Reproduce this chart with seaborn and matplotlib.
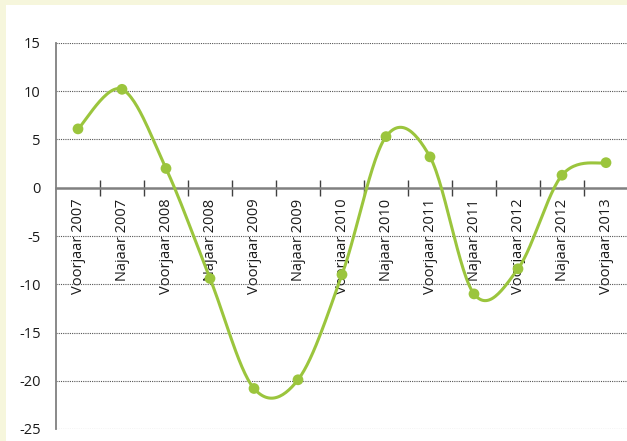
import numpy as np
import pandas as pd
import matplotlib
matplotlib.use("Agg")
import matplotlib.pyplot as plt
from matplotlib.patches import Rectangle
from matplotlib.ticker import FixedLocator
import seaborn as sns

PERIODS = ["Voorjaar 2007", "Najaar 2007", "Voorjaar 2008", "Najaar 2008",
           "Voorjaar 2009", "Najaar 2009", "Voorjaar 2010", "Najaar 2010",
           "Voorjaar 2011", "Najaar 2011", "Voorjaar 2012", "Najaar 2012",
           "Voorjaar 2013"]
VALUES = [6.1, 10.2, 2.0, -9.4, -20.8, -19.9, -9.0, 5.3, 3.2, -11.0, -8.4, 1.3, 2.6]
Y_TICKS = [15, 10, 5, 0, -5, -10, -15, -20, -25]

GREEN = "#9BC53D"
BG = "#F6F6DC"


def smooth_curve(x, y, steps=30):
    # Excel-style smoothed line: cubic Bezier with Catmull-Rom control points
    x = np.asarray(x, float)
    y = np.asarray(y, float)
    p = np.column_stack([x, y])
    p = np.vstack([p[0], p, p[-1]])
    out = []
    t = np.linspace(0, 1, steps)[:, None]
    for i in range(1, len(p) - 2):
        p0, p1, p2, p3 = p[i - 1], p[i], p[i + 1], p[i + 2]
        c1 = p1 + (p2 - p0) / 6
        c2 = p2 - (p3 - p1) / 6
        seg = ((1 - t) ** 3) * p1 + 3 * ((1 - t) ** 2) * t * c1 \
            + 3 * (1 - t) * t ** 2 * c2 + t ** 3 * p2
        out.append(seg if i == 1 else seg[1:])
    out = np.vstack(out)
    return out[:, 0], out[:, 1]


sns.set_style("white")
plt.rcParams["font.family"] = ["Open Sans", "DejaVu Sans"]

df = pd.DataFrame({"pos": np.arange(len(PERIODS)), "value": VALUES})
sx, sy = smooth_curve(df["pos"], df["value"])
curve = pd.DataFrame({"pos": sx, "value": sy})

fig = plt.figure(figsize=(6.27, 4.41), dpi=100)
fig.patch.set_facecolor(BG)
panel = Rectangle((6 / 627, 0), 1, (441 - 5) / 441, transform=fig.transFigure,
                  facecolor="white", edgecolor="none", zorder=-5)
fig.add_artist(panel)

ax = fig.add_axes([56 / 627, 12 / 441, 572 / 627, 386 / 441])
ax.set_facecolor("none")

sns.lineplot(data=curve, x="pos", y="value", sort=False, estimator=None,
             color=GREEN, linewidth=2.2, ax=ax, zorder=3)
sns.scatterplot(data=df, x="pos", y="value", color=GREEN, s=60,
                edgecolor="none", ax=ax, zorder=4)

ax.set_xlim(-0.5, len(PERIODS) - 0.5)
ax.set_ylim(-25, 15)

ax.set_yticks(Y_TICKS)
ax.set_yticklabels([str(v) for v in Y_TICKS])
for v in Y_TICKS:
    if v != 0:
        ax.axhline(v, color="#555555", linestyle=(0, (1, 1)), linewidth=0.8, zorder=1)

ax.spines["top"].set_visible(False)
ax.spines["right"].set_visible(False)
ax.spines["left"].set_color("#808080")
ax.spines["left"].set_linewidth(1.3)
ax.spines["bottom"].set_position(("data", 0))
ax.spines["bottom"].set_color("#808080")
ax.spines["bottom"].set_linewidth(1.8)
ax.spines["bottom"].set_zorder(2)

ax.set_xticks(df["pos"])
ax.set_xticklabels(PERIODS, rotation=90, va="top", ha="center")
ax.xaxis.set_minor_locator(FixedLocator(np.arange(0.5, len(PERIODS) - 1, 1)))
ax.tick_params(axis="x", which="major", bottom=True, length=0, pad=8,
               labelsize=10.5, labelcolor="#1a1a1a")
ax.tick_params(axis="x", which="minor", bottom=True, direction="inout",
               length=11, width=1, color="#404040")
ax.tick_params(axis="y", length=0, pad=11, labelsize=10.5, labelcolor="#1a1a1a")
ax.set_xlabel("")
ax.set_ylabel("")

fig.savefig("out.png", dpi=100, facecolor=BG)
